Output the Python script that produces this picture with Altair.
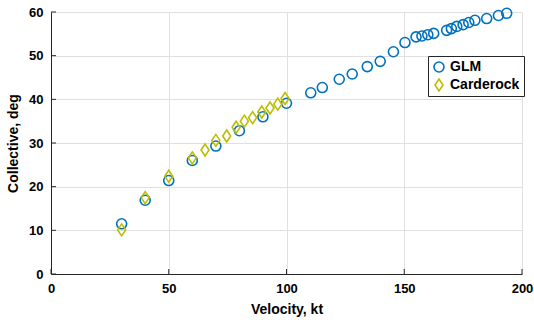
import altair as alt
import pandas as pd

glm_v = [30, 40, 50, 60, 70, 80, 90, 100, 110.3, 115.2, 122.4, 127.9, 134.3, 139.8,
         145.4, 150.3, 155, 157.5, 160, 162.5, 168, 170, 172.3, 175, 177.4, 180,
         185, 190, 193.5]
glm_c = [11.5, 16.9, 21.4, 26.0, 29.3, 32.8, 36.0, 39.1, 41.5, 42.7, 44.6, 45.8,
         47.5, 48.7, 50.9, 53.0, 54.3, 54.5, 54.8, 55.1, 55.8, 56.2, 56.7, 57.1,
         57.6, 58.1, 58.5, 59.2, 59.7]

cdr_v = [30, 40, 50, 60, 65.4, 70, 74.6, 78.6, 82.1, 85.6, 89.5, 93, 96.3, 99.4]
cdr_c = [10.1, 17.5, 22.4, 26.6, 28.4, 30.6, 31.6, 33.6, 35.0, 35.8, 37.1, 38.0, 38.9, 40.2]

x_ticks = [0, 50, 100, 150, 200]
y_ticks = [0, 10, 20, 30, 40, 50, 60]

series = ["GLM", "Carderock"]
colors = ["#0072BD", "#BDBD00"]
diamond = "M0,-1.2L0.8,0L0,1.2L-0.8,0Z"

df = pd.DataFrame({
    "v": glm_v + cdr_v,
    "c": glm_c + cdr_c,
    "s": ["GLM"] * len(glm_v) + ["Carderock"] * len(cdr_v),
})

font = "Liberation Sans"
xs = alt.Scale(domain=[0, 200], nice=False)
ys = alt.Scale(domain=[0, 60], nice=False)

leg = dict(title=None, orient="none", legendX=377, legendY=44,
           rowPadding=4, clipHeight=14, padding=4)

points = alt.Chart(df).mark_point(filled=False, strokeWidth=1.6, opacity=1, size=100).encode(
    x=alt.X("v:Q", scale=xs,
            axis=alt.Axis(values=x_ticks, title="Velocity, kt", labelFlush=False)),
    y=alt.Y("c:Q", scale=ys,
            axis=alt.Axis(values=y_ticks, title="Collective, deg", labelFlush=False)),
    color=alt.Color("s:N", scale=alt.Scale(domain=series, range=colors),
                    legend=alt.Legend(**leg)),
    shape=alt.Shape("s:N", scale=alt.Scale(domain=series, range=["circle", diamond]),
                    legend=alt.Legend(**leg)),
    order=alt.Order("o:Q"),
).transform_calculate(
    o="datum.s == 'GLM' ? 0 : 1"
)

xt = alt.Chart(pd.DataFrame({"t": x_ticks})).mark_rule(color="#262626", strokeWidth=1).encode(
    x=alt.X("t:Q", scale=xs), y=alt.value(262), y2=alt.value(257)
)
yt = alt.Chart(pd.DataFrame({"t": y_ticks})).mark_rule(color="#262626", strokeWidth=1).encode(
    y=alt.Y("t:Q", scale=ys), x=alt.value(0), x2=alt.value(5)
)

chart = alt.layer(xt, yt, points).properties(
    width=471, height=262,
    autosize=alt.AutoSizeParams(type="none"),
    padding={"left": 51, "top": 12, "right": 12, "bottom": 49},
).configure_view(
    stroke=None
).configure_axis(
    domainColor="#262626", tickColor="#262626", ticks=False,
    gridColor="#e0e0e0", gridWidth=1,
    labelFont=font, labelFontSize=13, labelFontWeight="bold", labelColor="#000000",
    titleFont=font, titleFontSize=14, titleFontWeight="bold", titleColor="#000000",
).configure_axisX(
    labelPadding=8, titlePadding=7,
).configure_axisY(
    labelPadding=8, titlePadding=8,
).configure_legend(
    labelFont=font, labelFontSize=14, labelFontWeight="bold", labelColor="#000000",
    strokeColor="#262626", fillColor="#ffffff",
    symbolStrokeWidth=1.6, symbolSize=100, symbolOpacity=1, labelOffset=4, cornerRadius=0,
)

chart.save("out.html", embed_options={"renderer": "svg", "actions": False})
